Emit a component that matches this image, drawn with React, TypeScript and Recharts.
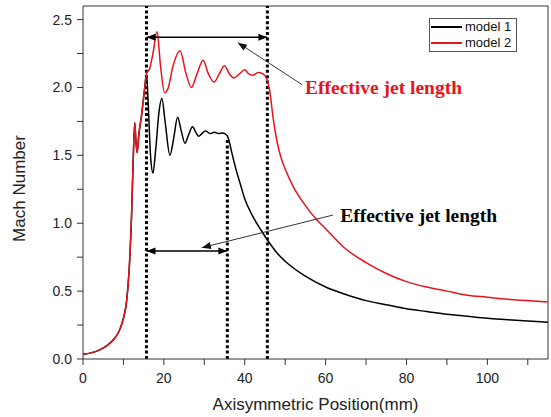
import {
  LineChart,
  Line,
  XAxis,
  YAxis,
  ReferenceLine,
  ReferenceDot,
} from "recharts";

// Mach number along the axis (mm, Mach)
const model1 = [
  [0, 0.035], [2, 0.045], [4, 0.065], [6, 0.1], [8, 0.16], [9, 0.21], [10, 0.3],
  [10.8, 0.43], [11.4, 0.65], [12, 1.05], [12.4, 1.45], [12.8, 1.74], [13.1, 1.6],
  [13.4, 1.52], [13.8, 1.65], [14.5, 1.8], [15.2, 1.98], [15.7, 2.1], [16.1, 1.9],
  [16.7, 1.5], [17.3, 1.37], [18, 1.55], [18.8, 1.82], [19.5, 1.92], [20.3, 1.75],
  [21.5, 1.5], [22.4, 1.62], [23.4, 1.78], [24.3, 1.68], [25.2, 1.59], [26.1, 1.65],
  [27.1, 1.71], [27.9, 1.67], [28.6, 1.64], [29.4, 1.66], [30.3, 1.68], [31.5, 1.66],
  [32.5, 1.67], [33.5, 1.66], [34.5, 1.665], [35.5, 1.65], [36, 1.62], [36.8, 1.52],
  [37.8, 1.4], [39, 1.28], [40, 1.18], [42, 1.05], [44, 0.95], [46, 0.86], [48, 0.78],
  [50, 0.72], [55, 0.61], [60, 0.53], [65, 0.475], [70, 0.43], [75, 0.4], [80, 0.37],
  [85, 0.35], [90, 0.33], [95, 0.315], [100, 0.3], [105, 0.29], [110, 0.28], [115, 0.27],
].map(([x, y]) => ({ x, y }));

const model2 = [
  [0, 0.035], [2, 0.045], [4, 0.065], [6, 0.1], [8, 0.16], [9, 0.21], [10, 0.3],
  [10.8, 0.43], [11.4, 0.65], [12, 1.05], [12.4, 1.45], [12.8, 1.74], [13.1, 1.6],
  [13.4, 1.52], [13.8, 1.65], [14.5, 1.8], [15.2, 1.98], [15.7, 2.1], [16.5, 2.14],
  [17.3, 2.25], [18.3, 2.41], [19.2, 2.15], [20.2, 1.96], [21, 1.99], [22.2, 2.15],
  [24, 2.27], [25.5, 2.1], [26.8, 2.0], [28.2, 2.1], [29.7, 2.2], [31, 2.1],
  [32.4, 2.04], [33.7, 2.1], [35, 2.16], [36.2, 2.1], [37.3, 2.07], [38.7, 2.1],
  [40, 2.13], [41, 2.1], [42, 2.09], [43.3, 2.11], [44.5, 2.1], [45.5, 2.06],
  [46.2, 1.97], [47, 1.78], [48, 1.6], [49, 1.48], [50, 1.4], [52, 1.27], [55, 1.13],
  [58, 1.02], [60, 0.96], [65, 0.81], [70, 0.71], [75, 0.63], [80, 0.57], [85, 0.53],
  [90, 0.5], [95, 0.47], [100, 0.455], [105, 0.44], [110, 0.43], [115, 0.42],
].map(([x, y]) => ({ x, y }));

const xTicks = [0, 10, 20, 30, 40, 50, 60, 70, 80, 90, 100, 110];
const yTicks = [0, 0.25, 0.5, 0.75, 1, 1.25, 1.5, 1.75, 2, 2.25, 2.5];
const xMax = 115;
const yMax = 2.6;

// annotation positions (data units)
const jetStart = 15.7;
const jetEnd1 = 35.7;
const jetEnd2 = 45.6;
const jetEnd1Top = 1.63;
const arrowY2 = 2.37;
const arrowY1 = 0.795;
const pointer2 = [{ x: 54.2, y: 2.02 }, { x: 38.3, y: 2.33 }];
const pointer1 = [{ x: 61.8, y: 1.06 }, { x: 29.4, y: 0.82 }];
const label2 = { x: 54.9, y: 1.95, text: "Effective jet length" };
const label1 = { x: 63.6, y: 1.01, text: "Effective jet length" };

const RED = "#e8141c";
const sans = "'Liberation Sans', Arial, sans-serif";

const legendItems = [
  { name: "model 1", color: "#000" },
  { name: "model 2", color: RED },
];

function head(tx: number, ty: number, fx: number, fy: number, len: number, half: number) {
  const dx = tx - fx;
  const dy = ty - fy;
  const d = Math.hypot(dx, dy) || 1;
  const ux = dx / d;
  const uy = dy / d;
  const bx = tx - ux * len;
  const by = ty - uy * len;
  return `${tx},${ty} ${bx - uy * half},${by + ux * half} ${bx + uy * half},${by - ux * half}`;
}

const DoubleArrow = (p: any) => {
  const { x1, y1, x2, y2 } = p;
  return (
    <g>
      <line x1={x1} y1={y1} x2={x2} y2={y2} stroke="#000" strokeWidth={1.4} />
      <polygon points={head(x1, y1, x2, y2, 9, 3.5)} fill="#000" />
      <polygon points={head(x2, y2, x1, y1, 9, 3.5)} fill="#000" />
    </g>
  );
};

const Pointer = (p: any) => {
  const { x1, y1, x2, y2 } = p;
  return (
    <g>
      <line x1={x1} y1={y1} x2={x2} y2={y2} stroke="#333" strokeWidth={1} />
      <polygon points={head(x2, y2, x1, y1, 9, 3.5)} fill="#111" />
    </g>
  );
};

const makeText = (text: string, color: string) => (p: any) => (
  <text
    x={p.cx}
    y={p.cy}
    fill={color}
    fontFamily="'Liberation Serif', 'Times New Roman', serif"
    fontWeight="bold"
    fontSize={19.5}
  >
    {text}
  </text>
);

const dotted = { stroke: "#000", strokeWidth: 3, strokeDasharray: "3 2.4" };

export default function App() {
  return (
    <div
      style={{
        position: "absolute",
        top: 0,
        left: 0,
        width: 551,
        height: 417,
        background: "#fff",
      }}
    >
      <LineChart width={551} height={417} margin={{ top: 6, right: 3, bottom: 0, left: 0 }}>
        <XAxis
          type="number"
          dataKey="x"
          domain={[0, xMax]}
          ticks={xTicks}
          interval={0}
          allowDataOverflow
          tickFormatter={(v: number) => (v % 20 === 0 ? String(v) : "")}
          tickSize={6}
          tickMargin={8}
          height={58}
          stroke="#333"
          tick={{ fill: "#222", fontSize: 14, fontFamily: sans }}
          label={{
            value: "Axisymmetric Position(mm)",
            position: "insideBottom",
            offset: 7,
            style: { fill: "#222", fontSize: 17, fontFamily: sans },
          }}
        />
        <YAxis
          type="number"
          domain={[0, yMax]}
          ticks={yTicks}
          interval={0}
          allowDataOverflow
          tickFormatter={(v: number) => (v % 0.5 === 0 ? v.toFixed(1) : "")}
          tickSize={6}
          tickMargin={5}
          width={83}
          stroke="#333"
          tick={{ fill: "#222", fontSize: 14, fontFamily: sans }}
          label={{
            content: (props: any) => {
              const vb = props.viewBox || { x: 0, y: 6, height: 353 };
              const x = vb.x + 25;
              const y = vb.y + vb.height / 2 + 6;
              return (
                <text
                  x={x}
                  y={y}
                  transform={`rotate(-90 ${x} ${y})`}
                  textAnchor="middle"
                  fill="#222"
                  fontSize={17}
                  fontFamily={sans}
                >
                  Mach Number
                </text>
              );
            },
          }}
        />
        {/* frame: top and right edges */}
        <ReferenceLine y={yMax} stroke="#333" strokeWidth={1} />
        <ReferenceLine x={xMax} stroke="#333" strokeWidth={1} />
        <ReferenceLine x={jetStart} {...dotted} />
        <ReferenceLine x={jetEnd2} {...dotted} />
        <ReferenceLine
          segment={[{ x: jetEnd1, y: 0 }, { x: jetEnd1, y: jetEnd1Top }]}
          {...dotted}
        />
        <Line
          data={model1}
          dataKey="y"
          name="model 1"
          type="monotone"
          stroke="#000"
          strokeWidth={1.5}
          dot={false}
          isAnimationActive={false}
        />
        <Line
          data={model2}
          dataKey="y"
          name="model 2"
          type="monotone"
          stroke={RED}
          strokeWidth={1.5}
          dot={false}
          isAnimationActive={false}
        />
        <ReferenceLine
          segment={[{ x: jetStart, y: arrowY2 }, { x: jetEnd2, y: arrowY2 }]}
          shape={DoubleArrow}
        />
        <ReferenceLine
          segment={[{ x: jetStart, y: arrowY1 }, { x: jetEnd1, y: arrowY1 }]}
          shape={DoubleArrow}
        />
        <ReferenceLine segment={pointer2} shape={Pointer} />
        <ReferenceLine segment={pointer1} shape={Pointer} />
        <ReferenceDot x={label2.x} y={label2.y} r={0} shape={makeText(label2.text, RED)} />
        <ReferenceDot x={label1.x} y={label1.y} r={0} shape={makeText(label1.text, "#000")} />
      </LineChart>
      <div
        style={{
          position: "absolute",
          top: 18,
          left: 429,
          width: 84,
          border: "1px solid #555",
          fontFamily: sans,
          fontSize: 13,
          color: "#111",
          padding: "0 1px",
          lineHeight: "16px",
          background: "#fff",
          whiteSpace: "nowrap",
        }}
      >
        {legendItems.map((e) => (
          <div key={e.name} style={{ display: "flex", alignItems: "center" }}>
            <span
              style={{ width: 31, height: 1.5, background: e.color, marginRight: 3, flexShrink: 0 }}
            />
            <span>{e.name}</span>
          </div>
        ))}
      </div>
    </div>
  );
}
